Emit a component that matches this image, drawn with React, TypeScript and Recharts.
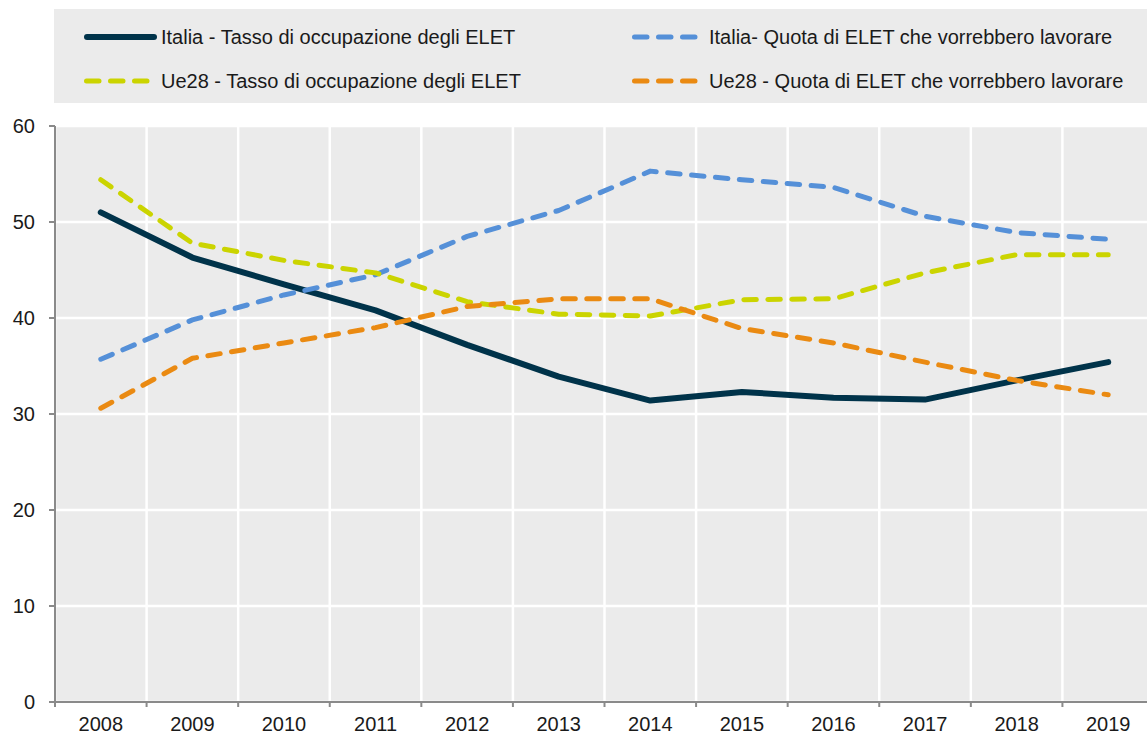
import React from 'react';
import { LineChart, Line, XAxis, YAxis, CartesianGrid } from 'recharts';

// anni e serie
const years = [2008, 2009, 2010, 2011, 2012, 2013, 2014, 2015, 2016, 2017, 2018, 2019];
const italiaTasso = [51.0, 46.3, 43.5, 40.8, 37.2, 33.9, 31.4, 32.3, 31.7, 31.5, 33.5, 35.4];
const italiaQuota = [35.7, 39.8, 42.4, 44.5, 48.5, 51.2, 55.3, 54.4, 53.6, 50.6, 48.9, 48.2];
const ue28Tasso = [54.4, 47.8, 46.0, 44.7, 41.7, 40.4, 40.2, 41.9, 42.0, 44.7, 46.6, 46.6];
const ue28Quota = [30.6, 35.8, 37.4, 39.0, 41.2, 42.0, 42.0, 38.9, 37.4, 35.4, 33.5, 32.0];
const yTicks = [0, 10, 20, 30, 40, 50, 60];

const series = [
  { key: 'italiaTasso', name: 'Italia - Tasso di occupazione degli ELET', color: '#00334a', dashed: false },
  { key: 'italiaQuota', name: 'Italia- Quota di ELET che vorrebbero lavorare', color: '#5590d8', dashed: true },
  { key: 'ue28Tasso', name: 'Ue28 - Tasso di occupazione degli ELET', color: '#cbd400', dashed: true },
  { key: 'ue28Quota', name: 'Ue28 - Quota di ELET che vorrebbero lavorare', color: '#ea8a12', dashed: true },
];

const data = years.map((year, i) => ({
  year,
  italiaTasso: italiaTasso[i],
  italiaQuota: italiaQuota[i],
  ue28Tasso: ue28Tasso[i],
  ue28Quota: ue28Quota[i],
}));

// category boundaries, so grid and tick marks fall between years
const xBoundaries = [...years.map((y) => y - 0.5), years[years.length - 1] + 0.5];

const CHART_W = 1154;
const CHART_H = 738;
const Y_AXIS_W = 55;
const BAND = (CHART_W - Y_AXIS_W) / years.length;
const FONT = '"Liberation Sans", Arial, sans-serif';
const FONT_SIZE = 20;
const DASH = '12.5 11.5';

const YearTick = (props: any) => {
  const { x, y, payload } = props;
  const year = payload.value + 0.5;
  if (year > years[years.length - 1]) return null;
  return (
    <text x={x + BAND / 2} y={y} dy="0.71em" textAnchor="middle" fontSize={FONT_SIZE} fill="#1a1a1a" fontFamily={FONT}>
      {year}
    </text>
  );
};

const LegendItem = ({ s, left, top }: { s: (typeof series)[number]; left: number; top: number }) => (
  <div style={{ position: 'absolute', left, top: top - 12, height: 24, display: 'flex', alignItems: 'center' }}>
    <svg width={77} height={24} style={{ display: 'block' }}>
      {s.dashed ? (
        <line x1={2.5} y1={12} x2={63} y2={12} stroke={s.color} strokeWidth={5} strokeDasharray={DASH} strokeLinecap="round" />
      ) : (
        <line x1={3} y1={12} x2={70} y2={12} stroke={s.color} strokeWidth={6} strokeLinecap="round" />
      )}
    </svg>
    <span style={{ fontFamily: FONT, fontSize: FONT_SIZE, color: '#1a1a1a', whiteSpace: 'nowrap' }}>{s.name}</span>
  </div>
);

export default function App() {
  return (
    <div style={{ position: 'absolute', left: 0, top: 0, width: 1147, height: 738, overflow: 'hidden', background: '#fff' }}>
      <div style={{ position: 'absolute', left: 54, top: 9, width: 1100, height: 94, background: '#ebebeb' }} />
      <LegendItem s={series[0]} left={84} top={37} />
      <LegendItem s={series[1]} left={632} top={37} />
      <LegendItem s={series[2]} left={84} top={81} />
      <LegendItem s={series[3]} left={632} top={81} />
      <div style={{ position: 'absolute', left: 0, top: 0 }}>
        <LineChart width={CHART_W} height={CHART_H} data={data} margin={{ top: 126, right: 0, bottom: 6, left: 0 }}>
          <CartesianGrid fill="#ebebeb" stroke="#ffffff" strokeWidth={2.5} />
          <XAxis
            dataKey="year"
            type="number"
            domain={[xBoundaries[0], xBoundaries[xBoundaries.length - 1]]}
            ticks={xBoundaries}
            interval={0}
            height={30}
            tickSize={5}
            tickMargin={10}
            tick={<YearTick />}
            stroke="#8a8a8a"
            strokeWidth={2}
          />
          <YAxis
            domain={[0, 60]}
            ticks={yTicks}
            interval={0}
            width={Y_AXIS_W}
            tickSize={6}
            tickMargin={14}
            stroke="#8a8a8a"
            strokeWidth={2}
            tick={{ fontSize: FONT_SIZE, fill: '#1a1a1a', fontFamily: FONT }}
          />
          {series.map((s) => (
            <Line
              key={s.key}
              dataKey={s.key}
              name={s.name}
              type="linear"
              stroke={s.color}
              strokeWidth={s.dashed ? 5 : 6}
              strokeDasharray={s.dashed ? DASH : undefined}
              strokeLinecap="round"
              strokeLinejoin="round"
              dot={false}
              activeDot={false}
              isAnimationActive={false}
            />
          ))}
        </LineChart>
      </div>
    </div>
  );
}
